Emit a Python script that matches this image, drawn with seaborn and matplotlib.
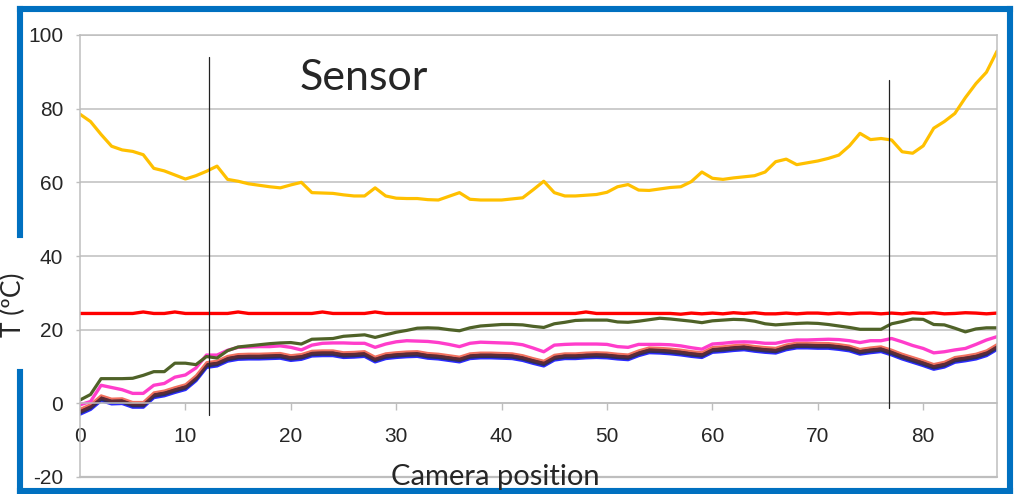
import numpy as np
import pandas as pd
import matplotlib
matplotlib.use("Agg")
import matplotlib.pyplot as plt
from matplotlib.lines import Line2D
import seaborn as sns

# Camera positions along the scan
positions = list(range(88))

# Temperature traces (degrees C) for each thermocouple / channel
t_heater = [78.5, 76.5, 73.0, 69.8, 68.8, 68.4, 67.5, 63.8, 63.1, 62.0,
            60.9, 61.8, 63.0, 64.4, 60.8, 60.3, 59.6, 59.2, 58.8, 58.5,
            59.3, 60.0, 57.2, 57.1, 57.0, 56.6, 56.3, 56.3, 58.5, 56.3,
            55.7, 55.6, 55.6, 55.3, 55.2, 56.2, 57.2, 55.4, 55.2, 55.2,
            55.2, 55.5, 55.8, 58.0, 60.3, 57.2, 56.3, 56.3, 56.5, 56.7,
            57.3, 58.8, 59.4, 57.9, 57.8, 58.2, 58.6, 58.8, 60.2, 62.8,
            61.1, 60.8, 61.2, 61.5, 61.8, 62.8, 65.6, 66.3, 64.8, 65.3,
            65.8, 66.5, 67.4, 69.9, 73.3, 71.6, 71.9, 71.5, 68.3, 67.9,
            69.9, 74.7, 76.5, 78.7, 83.0, 86.8, 89.9, 95.6]

t_ambient = [24.4, 24.4, 24.4, 24.4, 24.4, 24.4, 24.8, 24.4, 24.4, 24.8,
             24.4, 24.4, 24.4, 24.4, 24.4, 24.8, 24.4, 24.4, 24.4, 24.4,
             24.4, 24.4, 24.4, 24.8, 24.4, 24.4, 24.4, 24.4, 24.8, 24.4,
             24.4, 24.4, 24.4, 24.4, 24.4, 24.4, 24.4, 24.4, 24.4, 24.4,
             24.4, 24.4, 24.4, 24.4, 24.4, 24.4, 24.4, 24.4, 24.8, 24.4,
             24.4, 24.4, 24.4, 24.4, 24.4, 24.4, 24.4, 24.2, 24.5, 24.3,
             24.5, 24.3, 24.6, 24.4, 24.6, 24.3, 24.3, 24.5, 24.3, 24.5,
             24.5, 24.3, 24.5, 24.3, 24.5, 24.5, 24.3, 24.5, 24.3, 24.6,
             24.4, 24.6, 24.3, 24.4, 24.6, 24.5, 24.3, 24.5]

t_frame = [0.9, 2.4, 6.7, 6.7, 6.7, 6.8, 7.6, 8.6, 8.6, 10.9,
           10.9, 10.5, 12.7, 12.3, 14.3, 15.3, 15.6, 15.9, 16.2, 16.4,
           16.5, 16.1, 17.4, 17.5, 17.6, 18.2, 18.4, 18.6, 17.9, 18.6,
           19.3, 19.8, 20.4, 20.5, 20.4, 20.0, 19.7, 20.5, 21.0, 21.2,
           21.4, 21.4, 21.3, 20.9, 20.6, 21.6, 22.0, 22.5, 22.6, 22.6,
           22.6, 22.1, 22.0, 22.3, 22.7, 23.1, 22.9, 22.6, 22.3, 21.9,
           22.4, 22.6, 22.8, 22.7, 22.3, 21.6, 21.3, 21.5, 21.7, 21.8,
           21.7, 21.4, 21.0, 20.6, 20.1, 20.1, 20.1, 21.6, 22.2, 22.9,
           22.8, 21.4, 21.3, 20.4, 19.4, 20.2, 20.5, 20.5]

t_pink = [-0.4, 0.5, 4.9, 4.3, 3.7, 2.7, 2.7, 4.9, 5.4, 7.1,
          7.7, 9.6, 13.1, 13.1, 14.4, 15.2, 15.3, 15.4, 15.4, 15.6,
          15.2, 14.5, 15.8, 16.3, 16.4, 16.4, 16.3, 16.3, 15.2, 16.1,
          16.7, 17.0, 16.9, 16.8, 16.5, 16.0, 15.4, 16.3, 16.6, 16.5,
          16.4, 16.3, 15.9, 15.0, 14.0, 15.8, 16.0, 16.1, 16.1, 16.1,
          16.0, 15.4, 15.2, 16.0, 16.0, 16.0, 15.9, 15.6, 15.1, 14.7,
          16.1, 16.3, 16.6, 16.7, 16.6, 16.3, 16.3, 16.9, 17.2, 17.2,
          17.3, 17.4, 17.3, 17.0, 16.5, 17.0, 17.0, 17.6, 16.7, 15.7,
          14.9, 13.7, 14.0, 14.5, 14.9, 16.0, 17.2, 18.1]

t_salmon = [-1.5, -0.2, 2.2, 1.3, 1.4, 0.4, 0.4, 3.0, 3.5, 4.4,
            5.2, 7.6, 11.2, 11.6, 12.9, 13.4, 13.5, 13.5, 13.6, 13.7,
            13.1, 13.4, 14.3, 14.4, 14.4, 13.9, 14.0, 14.2, 12.7, 13.6,
            13.9, 14.1, 14.2, 13.7, 13.5, 13.1, 12.7, 13.6, 13.8, 13.8,
            13.7, 13.6, 13.1, 12.3, 11.6, 13.2, 13.6, 13.6, 13.8, 13.9,
            13.8, 13.5, 13.3, 14.4, 15.2, 15.1, 14.9, 14.6, 14.2, 13.9,
            15.3, 15.5, 15.8, 16.0, 15.6, 15.3, 15.1, 16.0, 16.5, 16.5,
            16.4, 16.4, 16.1, 15.7, 14.8, 15.2, 15.5, 14.6, 13.5, 12.6,
            11.7, 10.7, 11.3, 12.6, 13.0, 13.5, 14.4, 16.1]

t_maroon = [-2.1, -0.8, 1.6, 0.7, 0.8, -0.2, -0.2, 2.4, 2.9, 3.8,
            4.6, 7.0, 10.6, 11.0, 12.3, 12.8, 12.9, 12.9, 13.0, 13.1,
            12.5, 12.8, 13.7, 13.8, 13.8, 13.3, 13.4, 13.6, 12.1, 13.0,
            13.3, 13.5, 13.6, 13.1, 12.9, 12.5, 12.1, 13.0, 13.2, 13.2,
            13.1, 13.0, 12.5, 11.7, 11.0, 12.6, 13.0, 13.0, 13.2, 13.3,
            13.2, 12.9, 12.7, 13.8, 14.6, 14.5, 14.3, 14.0, 13.6, 13.3,
            14.7, 14.9, 15.2, 15.4, 15.0, 14.7, 14.5, 15.4, 15.9, 15.9,
            15.8, 15.8, 15.5, 15.1, 14.2, 14.6, 14.9, 14.0, 12.9, 12.0,
            11.1, 10.1, 10.7, 12.0, 12.4, 12.9, 13.8, 15.5]

t_navy = [-2.5, -1.2, 1.2, 0.3, 0.4, -0.6, -0.6, 2.0, 2.5, 3.4,
          4.2, 6.6, 10.2, 10.6, 11.9, 12.4, 12.5, 12.5, 12.6, 12.7,
          12.1, 12.4, 13.3, 13.4, 13.4, 12.9, 13.0, 13.2, 11.7, 12.6,
          12.9, 13.1, 13.2, 12.7, 12.5, 12.1, 11.7, 12.6, 12.8, 12.8,
          12.7, 12.6, 12.1, 11.3, 10.6, 12.2, 12.6, 12.6, 12.8, 12.9,
          12.8, 12.5, 12.3, 13.4, 14.2, 14.1, 13.9, 13.6, 13.2, 12.9,
          14.3, 14.5, 14.8, 15.0, 14.6, 14.3, 14.1, 15.0, 15.5, 15.5,
          15.4, 15.4, 15.1, 14.7, 13.8, 14.2, 14.5, 13.6, 12.5, 11.6,
          10.7, 9.7, 10.3, 11.6, 12.0, 12.5, 13.4, 15.1]

t_blue = [-2.9, -1.6, 0.8, -0.1, 0.0, -1.0, -1.0, 1.6, 2.1, 3.0,
          3.8, 6.2, 9.8, 10.2, 11.5, 12.0, 12.1, 12.1, 12.2, 12.3,
          11.7, 12.0, 12.9, 13.0, 13.0, 12.5, 12.6, 12.8, 11.3, 12.2,
          12.5, 12.7, 12.8, 12.3, 12.1, 11.7, 11.3, 12.2, 12.4, 12.4,
          12.3, 12.2, 11.7, 10.9, 10.2, 11.8, 12.2, 12.2, 12.4, 12.5,
          12.4, 12.1, 11.9, 13.0, 13.8, 13.7, 13.5, 13.2, 12.8, 12.5,
          13.9, 14.1, 14.4, 14.6, 14.2, 13.9, 13.7, 14.6, 15.1, 15.1,
          15.0, 15.0, 14.7, 14.3, 13.4, 13.8, 14.1, 13.2, 12.1, 11.2,
          10.3, 9.3, 9.9, 11.2, 11.6, 12.1, 13.0, 14.7]

# Sensor edge markers (camera position) and their vertical extent (deg C)
sensor_edges = [12.2, 76.8]
sensor_tops = [94.0, 87.8]
sensor_bottoms = [-3.2, -1.2]

y_ticks = [-20, 0, 20, 40, 60, 80, 100]
x_ticks = [0, 10, 20, 30, 40, 50, 60, 70, 80]

# (series, colour, line width in points) in drawing order
series = [
    ("blue", t_blue, "#2B2BFF", 2.6),
    ("navy", t_navy, "#2E2E5C", 2.6),
    ("maroon", t_maroon, "#5E2B36", 2.4),
    ("salmon", t_salmon, "#F2705E", 1.4),
    ("pink", t_pink, "#FF3DCB", 2.4),
    ("frame", t_frame, "#4F6228", 2.3),
    ("ambient", t_ambient, "#FF0000", 2.4),
    ("heater", t_heater, "#FFC000", 2.3),
]

sns.set_theme(style="white")
plt.rcParams["font.family"] = ["Liberation Sans", "DejaVu Sans"]
plt.rcParams["axes.unicode_minus"] = False

W, H = 1016.0, 494.0
fig = plt.figure(figsize=(W / 100, H / 100), dpi=100)
ax = fig.add_axes([80 / W, 1 - 477 / H, 917 / W, 442 / H])

for name, vals, color, lw in series:
    df = pd.DataFrame({"pos": positions, "temp": vals})
    sns.lineplot(data=df, x="pos", y="temp", color=color, linewidth=lw,
                 ax=ax, legend=False, solid_joinstyle="round")

grid_col = "#BEBEBE"
ax.set_xlim(0, 87)
ax.set_ylim(-20, 100)
ax.set_yticks(y_ticks)
ax.set_xticks(x_ticks)
ax.set_xlabel("")
ax.set_ylabel("")
ax.yaxis.grid(True, color=grid_col, linewidth=1.1)
ax.set_axisbelow(True)

# x axis crosses at 0, the -20 gridline closes the plot area
ax.spines["bottom"].set_position(("data", 0))
for s in ["left", "right", "top", "bottom"]:
    ax.spines[s].set_color(grid_col)
    ax.spines[s].set_linewidth(1.1)
ax.axhline(-20, color=grid_col, linewidth=1.6, clip_on=False, zorder=0)

ax.tick_params(axis="x", direction="out", length=5, width=1.0, color=grid_col,
               pad=12, labelsize=15, bottom=True)
ax.tick_params(axis="y", direction="out", length=3, width=1.0, color=grid_col,
               pad=9, labelsize=15, left=True)

# Sensor edge markers
for xe, yt, yb in zip(sensor_edges, sensor_tops, sensor_bottoms):
    ax.plot([xe, xe], [yb, yt], color="#222222", linewidth=0.9, zorder=5)

fig.text(300 / W, 1 - 78 / H, "Sensor", fontsize=31, family="Lato",
         ha="left", va="center")
fig.text(495 / W, 1 - 477 / H, "Camera position", fontsize=21,
         family="Lato", ha="center", va="center")
fig.text(1 / W, 1 - 305 / H, "T (ºC)", fontsize=19, family="Lato",
         rotation=90, ha="left", va="center")

# Blue slide frame around the chart
frame_col = "#0070C0"
flw = 4.4
segs = [
    ((20, 9.5), (1010, 9.5)),
    ((1010, 9.5), (1010, 491)),
    ((1010, 491), (20, 491)),
    ((20, 491), (20, 372)),
    ((20, 235), (20, 9.5)),
]
for (x0, y0), (x1, y1) in segs:
    fig.add_artist(Line2D([x0 / W, x1 / W], [1 - y0 / H, 1 - y1 / H],
                          color=frame_col, linewidth=flw,
                          solid_capstyle="projecting"))

fig.savefig("out.png", dpi=100)
